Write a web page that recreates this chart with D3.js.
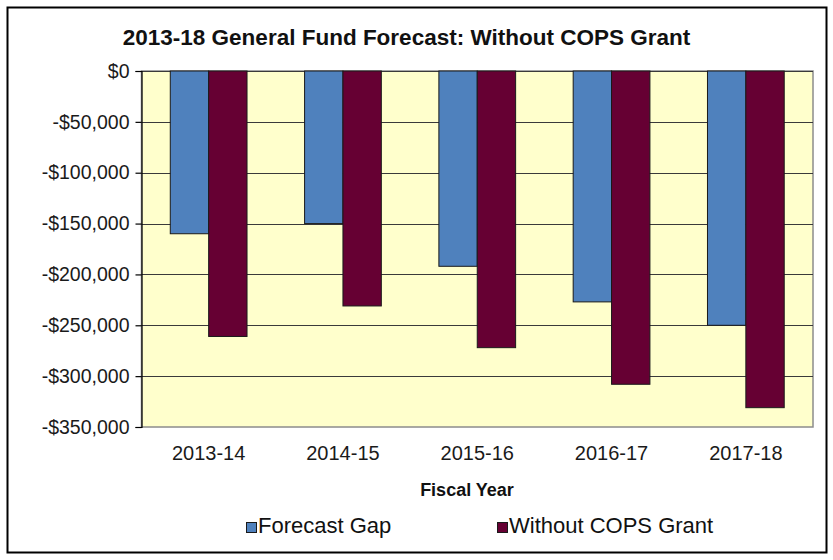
<!DOCTYPE html>
<html>
<head>
<meta charset="utf-8">
<script src="https://cdn.jsdelivr.net/npm/d3@7"></script>
<style>
  html, body { margin: 0; padding: 0; background: #fff; }
  svg { display: block; font-family: "Liberation Sans", Arial, sans-serif; }
</style>
</head>
<body>
<svg id="chart" width="833" height="560"></svg>
<script>
// Fiscal years on the category axis
const categories = ["2013-14", "2014-15", "2015-16", "2016-17", "2017-18"];
// Projected general fund gap, in dollars
const forecastGap = [-160000, -150000, -192000, -227000, -250000];
const withoutCops = [-261000, -231000, -272000, -308000, -331000];
const seriesNames = ["Forecast Gap", "Without COPS Grant"];
const seriesColors = ["#4F81BD", "#660033"];
const yTicks = [0, -50000, -100000, -150000, -200000, -250000, -300000, -350000];

const svg = d3.select("#chart");
const W = 833, H = 560;

// Outer frame
svg.append("rect")
  .attr("x", 7.5).attr("y", 7.5)
  .attr("width", 819).attr("height", 545)
  .attr("fill", "#fff").attr("stroke", "#000").attr("stroke-width", 2);

const plot = { left: 141.5, right: 813, top: 71, bottom: 427 };

const x = d3.scaleBand()
  .domain(categories)
  .range([plot.left, plot.right])
  .paddingInner(0).paddingOuter(0);

const y = d3.scaleLinear()
  .domain([-350000, 0])
  .range([plot.bottom, plot.top]);

// Plot area background with grey border
svg.append("rect")
  .attr("x", plot.left).attr("y", plot.top)
  .attr("width", plot.right - plot.left).attr("height", plot.bottom - plot.top)
  .attr("fill", "#FFFFCC")
  .attr("stroke", "#8c8c8c").attr("stroke-width", 1.5);

// Horizontal gridlines
svg.append("g")
  .selectAll("line")
  .data(yTicks.filter(d => d > -350000))
  .join("line")
  .attr("x1", plot.left).attr("x2", plot.right)
  .attr("y1", d => Math.round(y(d)) + 0.5).attr("y2", d => Math.round(y(d)) + 0.5)
  .attr("stroke", "#3a3a3a").attr("stroke-width", 1.2);

// Bars: each category holds two bars, each 1/3.5 of the band width
const barW = x.bandwidth() / 3.5;
const series = [forecastGap, withoutCops];
series.forEach((vals, si) => {
  svg.append("g")
    .selectAll("rect")
    .data(vals.map((v, i) => ({ cat: categories[i], v })))
    .join("rect")
    .attr("x", d => x(d.cat) + x.bandwidth() / 2 - barW + si * barW)
    .attr("y", y(0))
    .attr("width", barW)
    .attr("height", d => y(d.v) - y(0))
    .attr("fill", seriesColors[si])
    .attr("stroke", "#1a1a1a").attr("stroke-width", 1);
});

// Value axis
const fmt = d3.format(",");
const yAxis = d3.axisLeft(y)
  .tickValues(yTicks)
  .tickSize(6)
  .tickPadding(6)
  .tickFormat(d => d === 0 ? "$0" : "-$" + fmt(-d));
const gy = svg.append("g")
  .attr("transform", `translate(${plot.left},0)`)
  .call(yAxis);
gy.select(".domain").attr("stroke", "#000").attr("stroke-width", 1.2);
gy.selectAll(".tick line").attr("stroke", "#000").attr("stroke-width", 1.2);
gy.selectAll(".tick text")
  .attr("fill", "#1a1a1a")
  .style("font-size", "19.5px")
  .style("font-family", '"Liberation Sans", Arial, sans-serif');

// Category labels, placed below the plot
const xAxis = d3.axisBottom(x).tickSize(0).tickPadding(0);
const gx = svg.append("g")
  .attr("transform", `translate(0,${plot.bottom})`)
  .call(xAxis);
gx.select(".domain").remove();
gx.selectAll(".tick text")
  .attr("y", 33).attr("dy", 0)
  .attr("fill", "#1a1a1a")
  .style("font-size", "20px")
  .style("font-family", '"Liberation Sans", Arial, sans-serif');

// Title
svg.append("text")
  .attr("x", 406.5).attr("y", 45)
  .attr("text-anchor", "middle")
  .attr("font-weight", "bold")
  .attr("font-size", 22.5)
  .attr("fill", "#111")
  .text("2013-18 General Fund Forecast: Without COPS Grant");

// Axis title
svg.append("text")
  .attr("x", 467).attr("y", 496)
  .attr("text-anchor", "middle")
  .attr("font-weight", "bold")
  .attr("font-size", 18)
  .attr("fill", "#111")
  .text("Fiscal Year");

// Legend
const legendX = [246, 497];
const lg = svg.append("g");
seriesNames.forEach((name, i) => {
  lg.append("rect")
    .attr("x", legendX[i] + 0.5).attr("y", 522.5)
    .attr("width", 10).attr("height", 10)
    .attr("fill", seriesColors[i])
    .attr("stroke", "#1a1a1a").attr("stroke-width", 1);
  lg.append("text")
    .attr("x", legendX[i] + 12).attr("y", 533)
    .attr("font-size", 22)
    .attr("fill", "#111")
    .text(name);
});
</script>
</body>
</html>
